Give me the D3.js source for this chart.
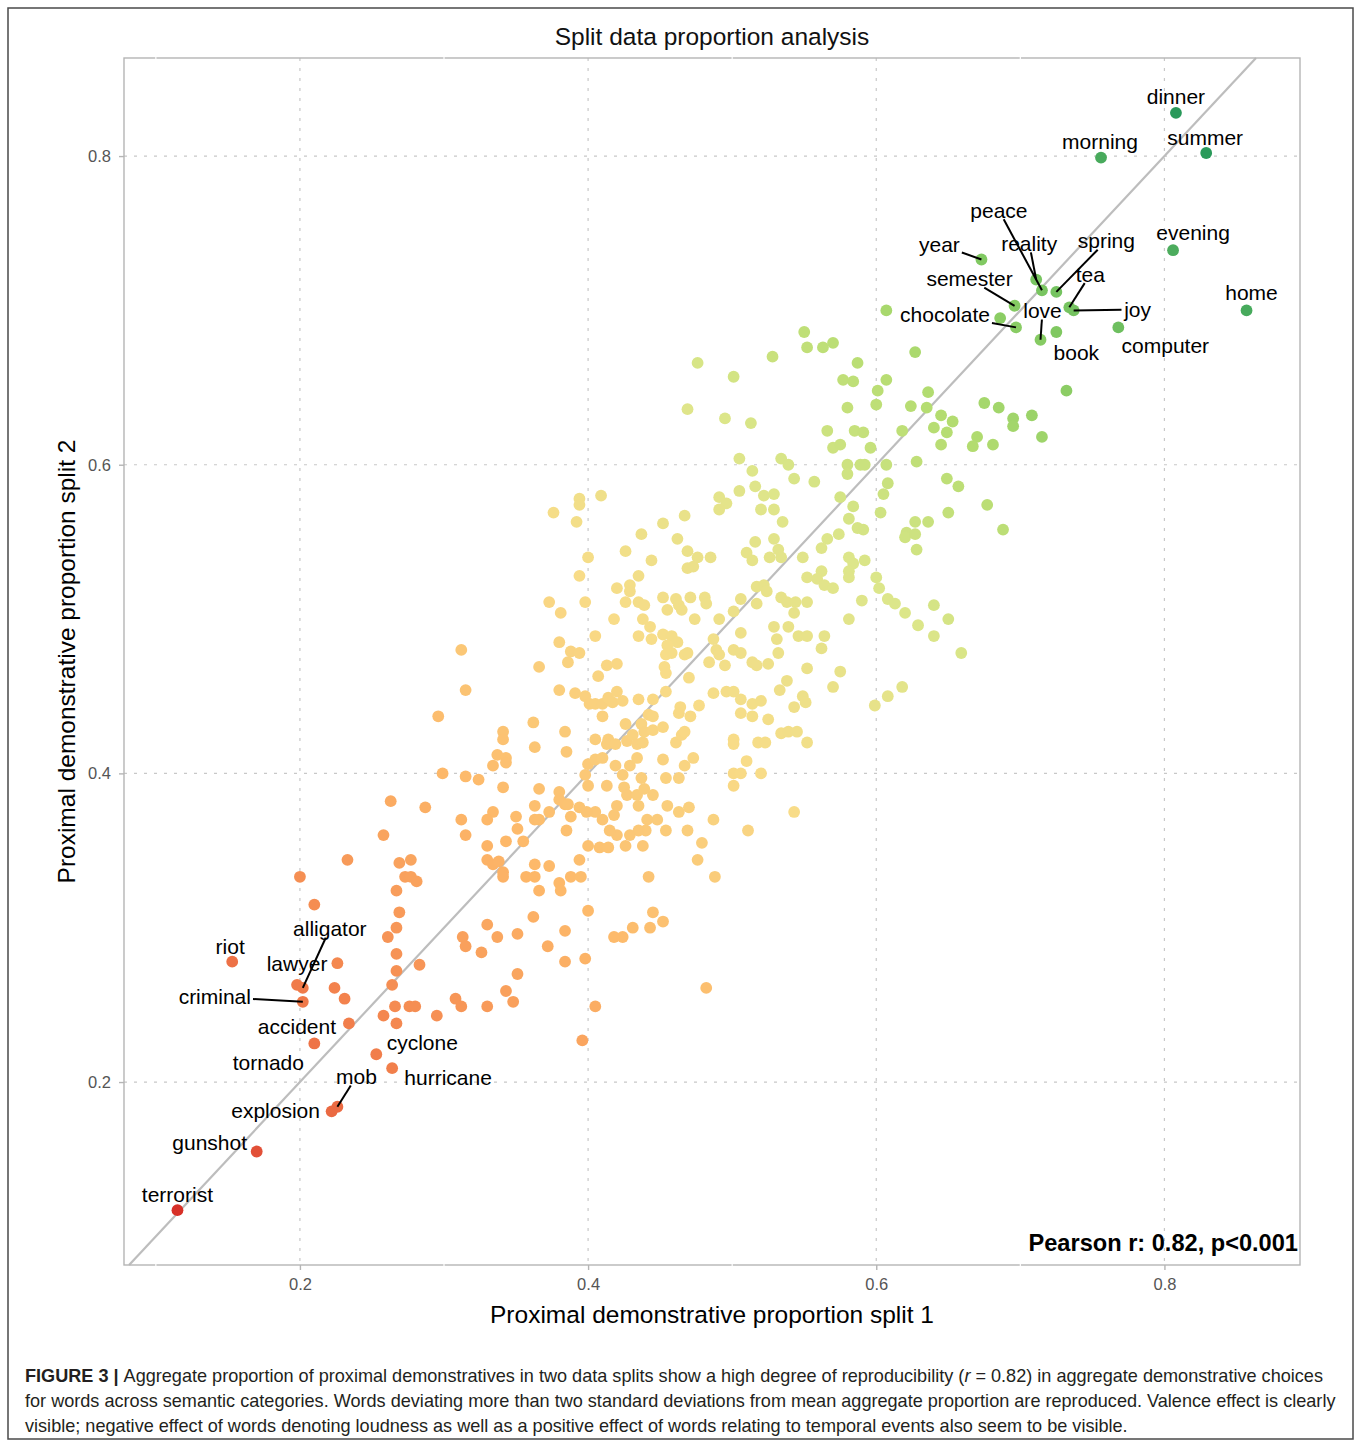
<!DOCTYPE html>
<html>
<head>
<meta charset="utf-8">
<script src="https://cdn.jsdelivr.net/npm/d3@7"></script>
<style>
  body { margin: 0; background: #fff; }
  text { font-family: "Liberation Sans", Arial, Helvetica, sans-serif; }
</style>
</head>
<body>
<script>
// Split data proportion analysis

// Labelled words (split 1 / split 2 proportions)
const labelWords  = ["dinner","summer","morning","evening","home","year","peace","reality","spring","tea","joy","semester","chocolate","love","book","computer",
                     "riot","alligator","lawyer","criminal","accident","tornado","cyclone","hurricane","mob","explosion","gunshot","terrorist"];
const labelSplit1 = [0.808,0.829,0.756,0.806,0.857,0.673,0.715,0.711,0.725,0.734,0.737,0.696,0.697,0.714,0.725,0.768,
                     0.153,0.202,0.198,0.202,0.234,0.210,0.253,0.264,0.226,0.222,0.170,0.115];
const labelSplit2 = [0.828,0.802,0.799,0.739,0.700,0.733,0.713,0.720,0.712,0.702,0.700,0.703,0.689,0.681,0.686,0.689,
                     0.278,0.261,0.263,0.252,0.238,0.225,0.218,0.209,0.184,0.181,0.155,0.117];

// Unlabelled words [split 1, split 2]
const lowWords = [
  [.315,.454],[.296,.437],[.341,.427],[.341,.422],[.337,.412],[.343,.410],[.343,.407],[.334,.405],[.299,.400],[.315,.398],
  [.324,.396],[.341,.391],[.263,.382],[.287,.378],[.334,.375],[.330,.370],[.312,.370],[.350,.372],[.351,.364],[.315,.360],
  [.258,.360],[.343,.356],[.330,.353],[.233,.344],[.269,.342],[.277,.344],[.330,.344],[.334,.341],[.338,.343],[.341,.336],
  [.341,.333],[.200,.333],[.273,.333],[.277,.333],[.281,.330],[.267,.324],[.210,.315],[.269,.310],[.267,.300],[.261,.294],
  [.330,.302],[.313,.294],[.337,.294],[.315,.288],[.326,.284],[.351,.296],[.267,.283],[.226,.277],[.283,.276],[.267,.272],
  [.351,.270],[.224,.261],[.231,.254],[.264,.263],[.266,.249],[.276,.249],[.280,.249],[.308,.254],[.312,.249],[.330,.249],
  [.343,.259],[.348,.252],[.258,.243],[.295,.243],[.267,.238]
];
const midWords = [
  [.380,.454],[.391,.452],[.398,.450],[.401,.445],[.405,.445],[.410,.445],[.414,.449],[.417,.446],[.420,.453],[.424,.447],
  [.435,.448],[.445,.448],[.454,.453],[.464,.443],[.463,.439],[.471,.437],[.477,.444],[.487,.452],[.496,.453],[.501,.453],
  [.506,.448],[.506,.439],[.514,.445],[.514,.437],[.520,.447],[.525,.435],[.533,.454],[.543,.443],[.549,.450],[.551,.446],
  [.552,.420],[.534,.426],[.539,.427],[.545,.427],[.501,.422],[.501,.419],[.518,.420],[.523,.420],[.510,.408],[.501,.400],
  [.506,.400],[.520,.400],[.501,.392],[.543,.375],[.511,.363],[.488,.333],[.482,.261],[.487,.370],[.479,.355],[.476,.344],
  [.469,.363],[.470,.378],[.463,.375],[.455,.379],[.454,.363],[.445,.386],[.448,.370],[.441,.370],[.440,.363],[.435,.363],
  [.429,.360],[.438,.353],[.426,.353],[.420,.360],[.415,.363],[.418,.373],[.420,.379],[.410,.370],[.405,.375],[.399,.375],
  [.394,.378],[.388,.372],[.384,.380],[.380,.388],[.380,.383],[.386,.380],[.373,.375],[.366,.390],[.363,.379],[.363,.370],
  [.366,.370],[.355,.356],[.385,.363],[.400,.353],[.408,.352],[.414,.352],[.394,.344],[.388,.333],[.395,.333],[.380,.329],
  [.381,.324],[.366,.324],[.363,.341],[.373,.340],[.357,.333],[.363,.333],[.400,.311],[.362,.307],[.384,.298],[.372,.288],
  [.384,.278],[.398,.280],[.405,.249],[.396,.227],[.442,.333],[.445,.310],[.443,.300],[.452,.304],[.431,.300],[.424,.294],
  [.418,.294],
  [.362,.433],[.363,.417],[.384,.427],[.385,.414],[.405,.422],[.410,.437],[.400,.406],[.405,.409],[.410,.410],[.398,.399],
  [.400,.392],[.413,.392],[.414,.422],[.413,.419],[.419,.419],[.419,.405],[.424,.399],[.425,.391],[.427,.386],[.426,.432],
  [.427,.421],[.431,.425],[.429,.405],[.434,.410],[.434,.419],[.438,.420],[.437,.432],[.442,.438],[.445,.437],[.439,.427],
  [.445,.428],[.452,.430],[.452,.409],[.454,.397],[.463,.397],[.467,.405],[.473,.410],[.461,.420],[.465,.425],[.467,.427],
  [.437,.397],[.434,.386],[.435,.379],[.439,.390]
];
const upperWords = [
  [.550,.686],[.552,.676],[.476,.666],[.528,.670],[.501,.657],[.469,.636],[.495,.630],[.513,.627],[.505,.604],[.534,.604],
  [.539,.600],[.514,.596],[.543,.591],[.505,.583],[.516,.586],[.522,.580],[.529,.581],[.491,.579],[.496,.575],[.491,.571],
  [.520,.571],[.529,.571],[.535,.563],[.409,.580],[.394,.578],[.394,.574],[.376,.569],[.392,.563],[.467,.567],[.452,.562],
  [.437,.555],[.462,.552],[.516,.550],[.529,.552],[.426,.544],[.469,.544],[.476,.540],[.485,.540],[.444,.538],[.469,.533],
  [.473,.534],[.510,.543],[.514,.538],[.526,.540],[.532,.545],[.534,.540],[.549,.540],[.400,.540],[.394,.528],[.435,.528],
  [.420,.520],[.429,.522],[.429,.518],[.373,.511],[.398,.511],[.381,.504],[.426,.511],[.435,.511],[.439,.509],[.452,.514],
  [.461,.513],[.463,.509],[.465,.506],[.471,.514],[.481,.514],[.482,.510],[.455,.506],[.474,.500],[.491,.500],[.501,.505],
  [.506,.513],[.517,.510],[.517,.521],[.522,.522],[.524,.518],[.534,.514],[.538,.511],[.544,.511],[.543,.504],[.552,.527],
  [.552,.511],[.418,.500],[.438,.500],[.443,.495],[.405,.489],[.380,.485],[.435,.489],[.444,.487],[.452,.490],[.458,.489],
  [.462,.485],[.455,.483],[.454,.477],[.458,.478],[.467,.477],[.469,.478],[.487,.487],[.489,.480],[.491,.477],[.501,.480],
  [.506,.478],[.506,.491],[.484,.472],[.495,.470],[.514,.472],[.517,.470],[.525,.471],[.532,.478],[.531,.487],[.529,.495],
  [.539,.495],[.546,.489],[.552,.489],[.552,.468],[.538,.460],[.388,.479],[.394,.478],[.386,.472],[.366,.469],[.413,.470],
  [.420,.471],[.407,.463],[.453,.469],[.454,.465],[.470,.462],[.312,.480]
];
const highWords = [
  [.686,.695],[.732,.648],[.563,.676],[.570,.679],[.587,.666],[.627,.673],[.607,.700],[.577,.655],[.584,.654],[.607,.655],
  [.601,.648],[.636,.647],[.580,.637],[.600,.639],[.624,.638],[.635,.637],[.675,.640],[.685,.637],[.645,.632],[.653,.628],
  [.695,.630],[.695,.625],[.708,.632],[.715,.618],[.566,.622],[.585,.622],[.591,.621],[.618,.622],[.640,.624],[.649,.621],
  [.645,.613],[.670,.618],[.667,.612],[.681,.613],[.570,.611],[.575,.613],[.596,.611],[.580,.600],[.589,.600],[.592,.600],
  [.580,.594],[.607,.600],[.628,.602],[.557,.589],[.608,.588],[.605,.581],[.649,.591],[.657,.586],[.575,.579],[.584,.573],
  [.603,.569],[.581,.565],[.587,.559],[.591,.558],[.574,.555],[.566,.552],[.562,.546],[.627,.563],[.636,.563],[.650,.569],
  [.677,.574],[.688,.558],[.621,.556],[.620,.553],[.627,.555],[.628,.545],[.581,.540],[.584,.536],[.592,.538],[.562,.531],
  [.581,.531],[.581,.527],[.559,.526],[.564,.522],[.570,.520],[.600,.527],[.602,.520],[.608,.513],[.613,.510],[.620,.504],
  [.590,.512],[.581,.500],[.640,.509],[.650,.500],[.629,.496],[.640,.489],[.659,.478],[.564,.489],[.562,.481],[.575,.466],
  [.570,.456],[.618,.456],[.599,.444],[.608,.450]
];

// Ticks
const xTicks = [0.2, 0.4, 0.6, 0.8];
const yTicks = [0.2, 0.4, 0.6, 0.8];
const minorTicks = [0.1, 0.3, 0.5, 0.7];

// Label placement (px offsets from the point, repel-style)
const labelNudge = {
  dinner:[0,-16], summer:[-1,-16], morning:[-1,-16], evening:[20,-18], home:[5,-18],
  year:[-42,-15], peace:[-43,-80], reality:[-7,-36], spring:[50,-51], tea:[21,-33],
  joy:[64,-1], semester:[-45,-27], chocolate:[-71,-13], love:[2,-29], book:[20,20],
  computer:[47,18], riot:[-2,-15], alligator:[27,-59], lawyer:[0,-21], criminal:[-88,-5],
  accident:[-52,3], tornado:[-46,19], cyclone:[46,-12], hurricane:[56,9], mob:[19,-30],
  explosion:[-56,-1], gunshot:[-47,-9], terrorist:[0,-16]
};
const withSegment = new Set(["year","peace","reality","spring","tea","joy","semester","chocolate","love","alligator","criminal","mob"]);

// Dimensions
const W = 1360, H = 1444;
const panel = { left: 124, right: 1300, top: 58, bottom: 1265 };
const LABEL_SIZE = 21;

const points = lowWords.concat(midWords, upperWords, highWords).map(p => ({ x: p[0], y: p[1] }))
  .concat(labelWords.map((w, i) => ({ x: labelSplit1[i], y: labelSplit2[i], word: w })));

const expand = e => { const s = e[1] - e[0]; return [e[0] - 0.05 * s, e[1] + 0.05 * s]; };
const xDom = expand(d3.extent(points, d => d.x));
const yDom = expand(d3.extent(points, d => d.y));

const x = d3.scaleLinear().domain(xDom).range([panel.left, panel.right]);
const y = d3.scaleLinear().domain(yDom).range([panel.bottom, panel.top]);

// colour by mean proportion
const colour = d3.scaleLinear()
  .domain([0.116, 0.17, 0.25, 0.35, 0.46, 0.56, 0.64, 0.71, 0.82])
  .range(["#d73027", "#e4553a", "#f4874f", "#fdb869", "#f8dc88", "#dde68a", "#b3dc70", "#7cc760", "#27985a"])
  .clamp(true);

const svg = d3.select("body").append("svg")
  .attr("width", W).attr("height", H);

svg.append("rect").attr("width", W).attr("height", H).attr("fill", "#fff");
svg.append("rect")
  .attr("x", 8).attr("y", 8).attr("width", 1345).attr("height", 1431)
  .attr("fill", "none").attr("stroke", "#4a4a4a").attr("stroke-width", 1.5);

// Grid
const grid = svg.append("g");
grid.selectAll(".gx").data(xTicks).join("line")
  .attr("x1", d => x(d)).attr("x2", d => x(d))
  .attr("y1", panel.top).attr("y2", panel.bottom)
  .attr("stroke", "#c8c8c8").attr("stroke-width", 1.2).attr("stroke-dasharray", "3,7");
grid.selectAll(".gy").data(yTicks).join("line")
  .attr("y1", d => y(d)).attr("y2", d => y(d))
  .attr("x1", panel.left).attr("x2", panel.right)
  .attr("stroke", "#c8c8c8").attr("stroke-width", 1.2).attr("stroke-dasharray", "3,7");

// Identity line
const lo = Math.max(xDom[0], yDom[0]), hi = Math.min(xDom[1], yDom[1]);
svg.append("line")
  .attr("x1", x(lo)).attr("y1", y(lo)).attr("x2", x(hi)).attr("y2", y(hi))
  .attr("stroke", "#bdbdbd").attr("stroke-width", 2.2);

// Points
svg.append("g").selectAll("circle").data(points).join("circle")
  .attr("cx", d => x(d.x)).attr("cy", d => y(d.y)).attr("r", 5.9)
  .attr("fill", d => colour((d.x + d.y) / 2));

// Panel border + ticks
svg.append("rect")
  .attr("x", panel.left).attr("y", panel.top)
  .attr("width", panel.right - panel.left).attr("height", panel.bottom - panel.top)
  .attr("fill", "none").attr("stroke", "#b5b5b5").attr("stroke-width", 1.4);

const minor = svg.append("g");
minor.selectAll(".mx").data(minorTicks.filter(d => d > xDom[0])).join("line")
  .attr("x1", d => x(d)).attr("x2", d => x(d))
  .attr("y1", panel.top - 1).attr("y2", panel.top + 1)
  .attr("stroke", "#fff").attr("stroke-width", 1.2);
minor.selectAll(".mx2").data(minorTicks.filter(d => d > xDom[0])).join("line")
  .attr("x1", d => x(d)).attr("x2", d => x(d))
  .attr("y1", panel.bottom - 1).attr("y2", panel.bottom + 1)
  .attr("stroke", "#fff").attr("stroke-width", 1.2);

const xAxis = g => g
  .attr("transform", `translate(0,${panel.bottom})`)
  .call(d3.axisBottom(x).tickValues(xTicks).tickSize(5).tickPadding(8).tickFormat(d3.format(".1f")))
  .call(g => g.select(".domain").remove())
  .call(g => g.selectAll("line").attr("stroke", "#b5b5b5").attr("stroke-width", 1.4))
  .call(g => g.selectAll("text").attr("fill", "#555").attr("font-size", "16.5px")
    .attr("font-family", "'Liberation Sans', Arial, sans-serif"));
const yAxis = g => g
  .attr("transform", `translate(${panel.left},0)`)
  .call(d3.axisLeft(y).tickValues(yTicks).tickSize(5).tickPadding(8).tickFormat(d3.format(".1f")))
  .call(g => g.select(".domain").remove())
  .call(g => g.selectAll("line").attr("stroke", "#b5b5b5").attr("stroke-width", 1.4))
  .call(g => g.selectAll("text").attr("fill", "#555").attr("font-size", "16.5px")
    .attr("font-family", "'Liberation Sans', Arial, sans-serif"));
svg.append("g").call(xAxis);
svg.append("g").call(yAxis);

// Labels and segments
const segLayer = svg.append("g");
const labLayer = svg.append("g");
points.filter(d => d.word).forEach(d => {
  const px = x(d.x), py = y(d.y);
  const [dx, dy] = labelNudge[d.word];
  const cx = px + dx, cy = py + dy;
  const t = labLayer.append("text")
    .attr("x", cx).attr("y", cy + 0.36 * LABEL_SIZE)
    .attr("text-anchor", "middle")
    .attr("font-size", LABEL_SIZE + "px")
    .attr("fill", "#000")
    .text(d.word);
  if (withSegment.has(d.word)) {
    const hw = t.node().getBBox().width / 2 + 2, hh = 0.42 * LABEL_SIZE;
    const vx = px - cx, vy = py - cy;
    const k = Math.min(vx ? hw / Math.abs(vx) : Infinity, vy ? hh / Math.abs(vy) : Infinity);
    if (k < 1) {
      segLayer.append("line")
        .attr("x1", cx + k * vx).attr("y1", cy + k * vy)
        .attr("x2", px).attr("y2", py)
        .attr("stroke", "#000").attr("stroke-width", 2);
    }
  }
});

// Pearson annotation
svg.append("text")
  .attr("x", panel.right - 2).attr("y", 1251)
  .attr("text-anchor", "end")
  .attr("font-size", "23.6px").attr("font-weight", "bold").attr("fill", "#000")
  .text("Pearson r: 0.82, p<0.001");

// Titles
svg.append("text")
  .attr("x", (panel.left + panel.right) / 2).attr("y", 45)
  .attr("text-anchor", "middle").attr("font-size", "24.5px").attr("fill", "#111")
  .text("Split data proportion analysis");

svg.append("text")
  .attr("x", (panel.left + panel.right) / 2).attr("y", 1323)
  .attr("text-anchor", "middle").attr("font-size", "24.5px").attr("fill", "#000")
  .text("Proximal demonstrative proportion split 1");

svg.append("text")
  .attr("transform", `translate(75,${(panel.top + panel.bottom) / 2}) rotate(-90)`)
  .attr("text-anchor", "middle").attr("font-size", "24.5px").attr("fill", "#000")
  .text("Proximal demonstrative proportion split 2");

// Caption
const cap = svg.append("g").attr("font-size", "18.1px").attr("fill", "#231f20");
const l1 = cap.append("text").attr("x", 25).attr("y", 1382);
l1.append("tspan").attr("font-weight", "bold").text("FIGURE 3 | ");
l1.append("tspan").text("Aggregate proportion of proximal demonstratives in two data splits show a high degree of reproducibility (");
l1.append("tspan").attr("font-style", "italic").text("r");
l1.append("tspan").text(" = 0.82) in aggregate demonstrative choices");
cap.append("text").attr("x", 25).attr("y", 1407)
  .text("for words across semantic categories. Words deviating more than two standard deviations from mean aggregate proportion are reproduced. Valence effect is clearly");
cap.append("text").attr("x", 25).attr("y", 1432)
  .text("visible; negative effect of words denoting loudness as well as a positive effect of words relating to temporal events also seem to be visible.");
</script>
</body>
</html>
